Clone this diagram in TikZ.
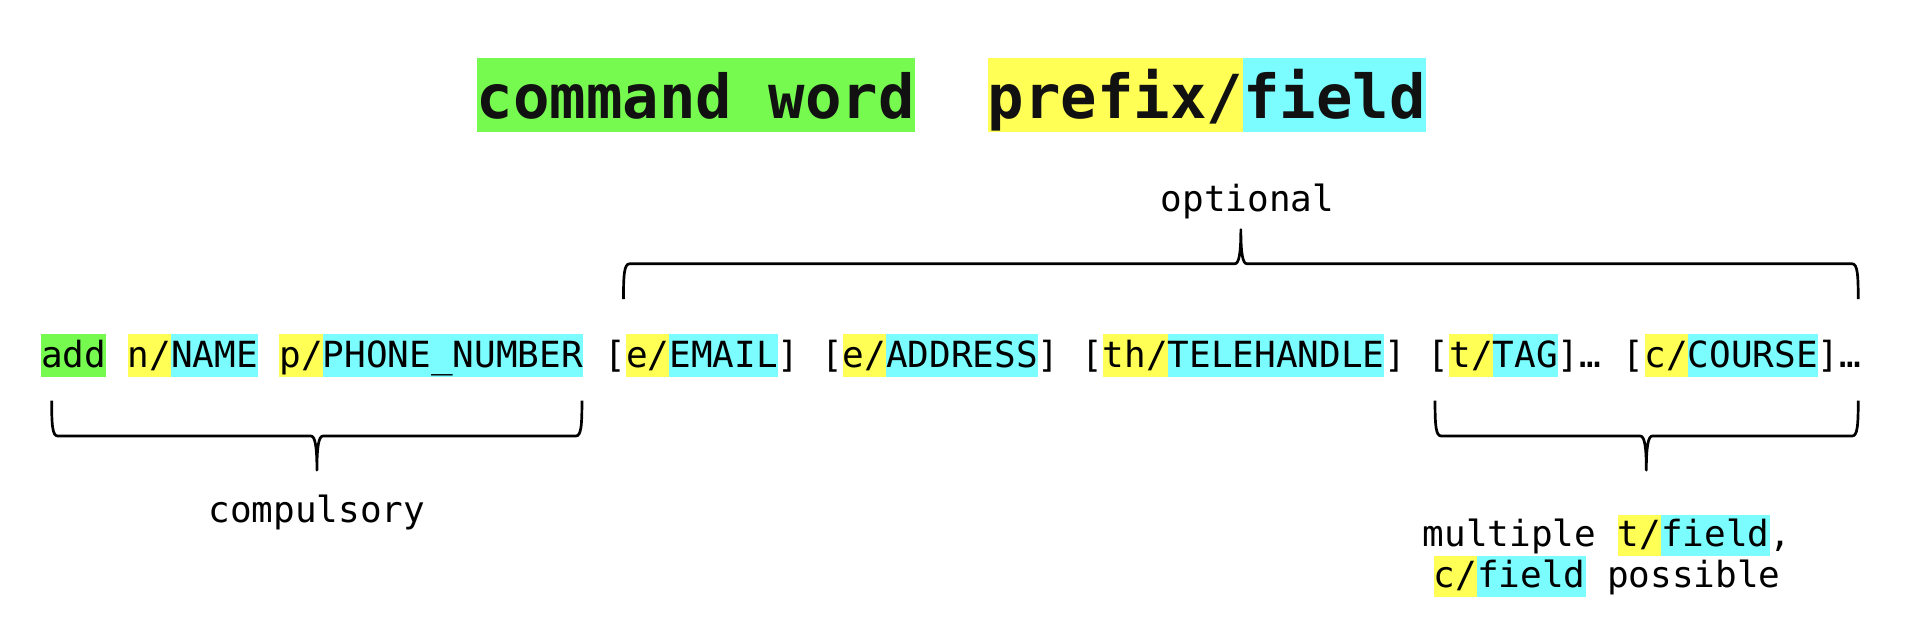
\documentclass[tikz,border=0pt]{standalone}
\usepackage{fontspec}
\newfontfamily\dmono{DejaVu Sans Mono}
\definecolor{cgreen}{HTML}{76FA50}
\definecolor{cyellow}{HTML}{FFFF55}
\definecolor{ccyan}{HTML}{7BFCFE}
\definecolor{ink}{HTML}{111111}
\newcommand\mainf{\dmono\fontsize{29.47pt}{33.5pt}\selectfont}
\newcommand\titlef{\dmono\bfseries\fontsize{49.66pt}{60pt}\selectfont}
% brace: #1 xl, #2 xr, #3 xm, #4 y of ends, #5 y of long bar, #6 y of tip
\newcommand\mybrace[6]{%
  \draw[bracestyle] (#1,#4) .. controls (#1,{#5+0.3*(#4-#5)}) and ({#1+0.6},#5) .. ({#1+5},#5)
    -- ({#3-5},#5) .. controls ({#3-1.5},#5) and (#3,{#5+0.3*(#6-#5)}) .. (#3,#6)
    .. controls (#3,{#5+0.3*(#6-#5)}) and ({#3+1.5},#5) .. ({#3+5},#5)
    -- ({#2-5},#5) .. controls ({#2-0.6},#5) and (#2,{#5+0.3*(#4-#5)}) .. (#2,#4);}
\begin{document}
\begin{tikzpicture}[x=1pt,y=-1pt,
  seg/.style={inner sep=0pt, anchor=base west, text height=27.5pt, text depth=8pt, font=\mainf, text=black},
  lseg/.style={seg, text height=26pt, text depth=7.5pt},
  tseg/.style={inner sep=0pt, anchor=base west, text height=49.5pt, text depth=11pt, font=\titlef, text=ink},
  lbl/.style={inner sep=0pt, anchor=base, font=\mainf, text=black},
  bracestyle/.style={draw=black, line width=2.2pt, line cap=butt, line join=round}]
\useasboundingbox (0,0) rectangle (1568,526.5);
% title
\node[tseg, fill=cgreen] (tcmd) at (390,97) {command word};
\node[tseg, fill=cyellow] (tpre) at ({390+14*29.9},97) {prefix/};
\node[tseg, fill=ccyan] (tfld) at ({390+21*29.9},97) {field};
% optional label and brace
\node[lbl] (optional) at (1021.5,173) {optional};
\mybrace{510.5}{1521.5}{1016}{245}{216}{188}
% main line
\def\px#1{{33.4+17.742*#1}}
\node[seg, fill=cgreen] (add) at (\px{0},301) {add};
\node[seg, fill=cyellow] (np) at (\px{4},301) {n/};
\node[seg, fill=ccyan] (nf) at (\px{6},301) {NAME};
\node[seg, fill=cyellow] (pp) at (\px{11},301) {p/};
\node[seg, fill=ccyan] (pf) at (\px{13},301) {PHONE\_NUMBER};
\node[seg] (eo) at (\px{26},301) {[};
\node[seg, fill=cyellow] (ep) at (\px{27},301) {e/};
\node[seg, fill=ccyan] (ef) at (\px{29},301) {EMAIL};
\node[seg] (ec) at (\px{34},301) {]};
\node[seg] (ao) at (\px{36},301) {[};
\node[seg, fill=cyellow] (ap) at (\px{37},301) {e/};
\node[seg, fill=ccyan] (af) at (\px{39},301) {ADDRESS};
\node[seg] (ac) at (\px{46},301) {]};
\node[seg] (ho) at (\px{48},301) {[};
\node[seg, fill=cyellow] (hp) at (\px{49},301) {th/};
\node[seg, fill=ccyan] (hf) at (\px{52},301) {TELEHANDLE};
\node[seg] (hc) at (\px{62},301) {]};
\node[seg] (go) at (\px{64},301) {[};
\node[seg, fill=cyellow] (gp) at (\px{65},301) {t/};
\node[seg, fill=ccyan] (gf) at (\px{67},301) {TAG};
\node[seg] (gc) at (\px{70},301) {]…};
\node[seg] (co) at (\px{73},301) {[};
\node[seg, fill=cyellow] (cp) at (\px{74},301) {c/};
\node[seg, fill=ccyan] (cf) at (\px{76},301) {COURSE};
\node[seg] (cc) at (\px{82},301) {]…};
% lower braces
\mybrace{42.3}{476.5}{259.5}{328}{357}{385}
\mybrace{1175}{1521.5}{1348}{328}{357}{385}
\node[lbl] (compulsory) at (259.5,428) {compulsory};
% multiple label
\def\qx#1{{1164.9+17.742*#1}}
\def\rx#1{{1173.8+17.742*#1}}
\node[lseg] (m1) at (\qx{0},447.5) {multiple};
\node[lseg, fill=cyellow] (m2) at (\qx{9},447.5) {t/};
\node[lseg, fill=ccyan] (m3) at (\qx{11},447.5) {field};
\node[lseg] (m4) at (\qx{16},447.5) {,};
\node[lseg, fill=cyellow] (m5) at (\rx{0},481) {c/};
\node[lseg, fill=ccyan] (m6) at (\rx{2},481) {field};
\node[lseg] (m7) at (\rx{8},481) {possible};
\end{tikzpicture}
\end{document}
